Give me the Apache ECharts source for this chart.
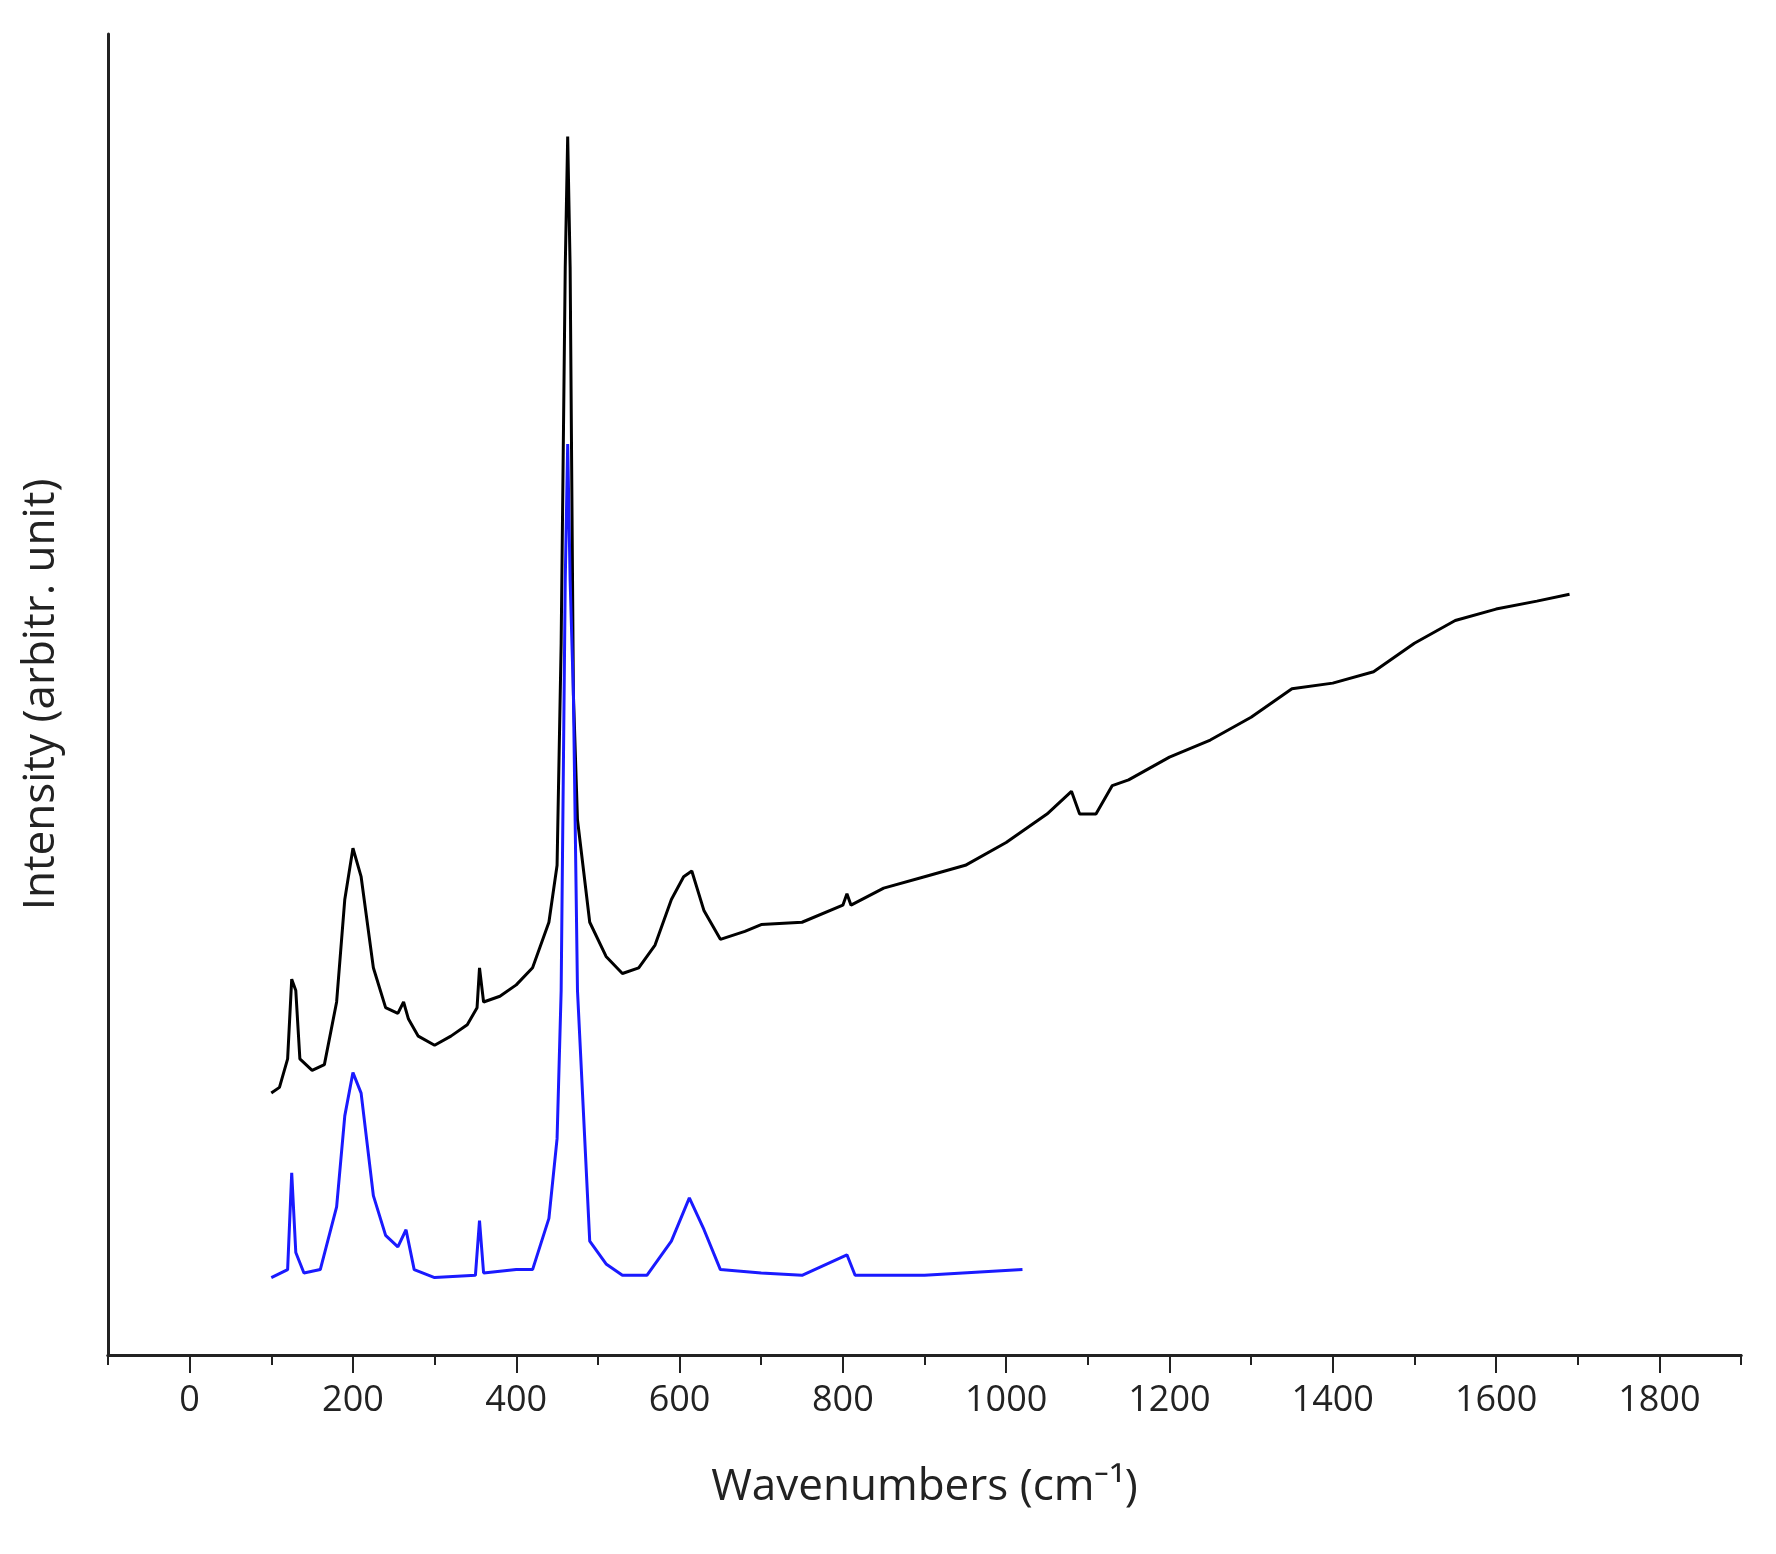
<!DOCTYPE html><html><head><meta charset="utf-8">
<script src="https://cdn.jsdelivr.net/npm/echarts@6/dist/echarts.min.js"></script>
<style>html,body{margin:0;background:#fff}#c{width:1776px;height:1554px}</style></head><body><div id="c"></div>
<script>
const blackX=[100,110,120,125,130,135,150,165,180,190,200,210,225,240,255,262,268,280,300,320,340,352,355,360,380,400,420,440,450,455,460,463,466,470,475,490,510,530,550,570,590,605,615,630,650,680,700,750,800,805,810,850,900,950,1000,1050,1080,1090,1110,1130,1150,1200,1250,1300,1350,1400,1450,1500,1550,1600,1650,1690];
const blackY=[960,955,930,860,870,930,940,935,880,790,745,770,850,885,890,880,895,910,918,910,900,885,850,880,875,865,850,810,760,565,235,120,235,610,720,810,840,855,850,830,790,770,765,800,825,818,812,810,795,785,795,780,770,760,740,715,695,715,715,690,685,665,650,630,605,600,590,565,545,535,528,522];
const blueX=[100,120,125,130,140,160,180,190,200,210,225,240,255,265,275,300,350,355,360,400,420,440,450,455,460,463,466,470,475,490,510,530,560,590,612,630,650,700,750,805,815,900,1020];
const blueY=[1122,1115,1030,1100,1118,1115,1060,980,942,960,1050,1085,1095,1080,1115,1122,1120,1072,1118,1115,1115,1070,1000,870,510,390,510,610,870,1090,1110,1120,1120,1090,1052,1080,1115,1118,1120,1102,1120,1120,1115];
const xLabels=[0,200,400,600,800,1000,1200,1400,1600,1800];
const conv=(xs,ys)=>xs.map((x,i)=>[x,1190-ys[i]]);
const ch=echarts.init(document.getElementById('c'));
const ff='"Open Sans", sans-serif';
ch.setOption({animation:false,
grid:{left:108,right:35,top:34,bottom:199},
xAxis:[{type:'value',min:-100,max:1900,interval:100,position:'bottom',offset:0,
 name:'Wavenumbers (cm⁻¹)',nameLocation:'middle',nameGap:110,nameTextStyle:{fontSize:44,color:'#222',fontFamily:ff},
 axisLine:{lineStyle:{color:'#222',width:3}},axisTick:{show:true,length:18,customValues:xLabels,lineStyle:{color:'#222',width:2}},
 axisLabel:{fontSize:36,color:'#222',margin:28,fontFamily:ff,customValues:xLabels,formatter:v=>String(v)},splitLine:{show:false}},
 {type:'value',min:-100,max:1900,interval:100,position:'bottom',offset:0,axisLine:{show:true,lineStyle:{color:'#222',width:3}},
 axisTick:{show:true,length:10,lineStyle:{color:'#222',width:2}},axisLabel:{show:false},splitLine:{show:false}}],
yAxis:{type:'value',min:0,max:1160,name:'Intensity (arbitr. unit)',nameLocation:'middle',nameGap:45,
 nameTextStyle:{fontSize:44,color:'#222',fontFamily:ff},
 axisLine:{show:true,onZero:false,lineStyle:{color:'#222',width:3}},axisTick:{show:false},axisLabel:{show:false},splitLine:{show:false}},
series:[
 {type:'line',data:conv(blackX,blackY),symbol:'none',lineStyle:{color:'#000',width:3}},
 {type:'line',data:conv(blueX,blueY),symbol:'none',lineStyle:{color:'#1a1aff',width:3}}
]});
</script></body></html>
